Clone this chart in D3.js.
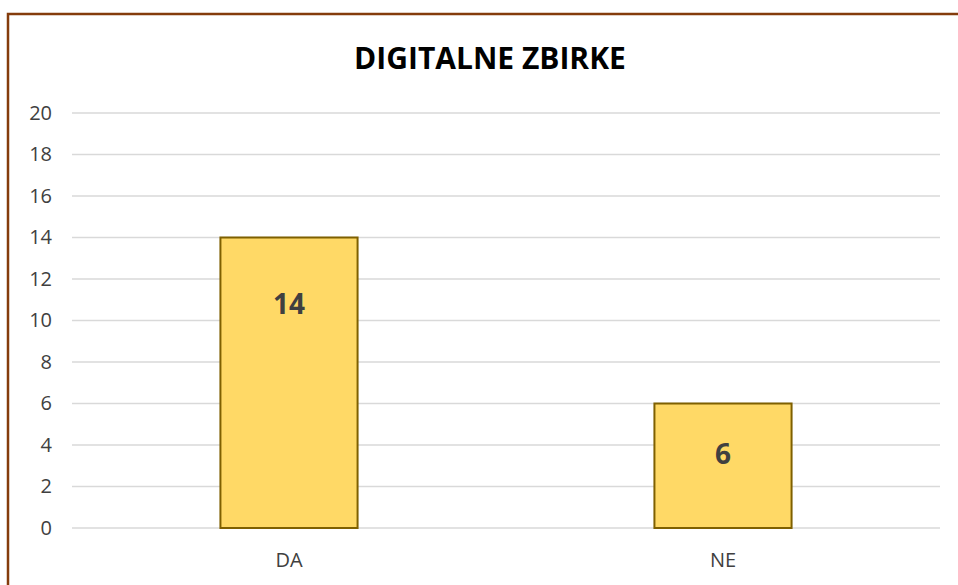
<!DOCTYPE html>
<html>
<head>
<meta charset="utf-8">
<script src="https://cdn.jsdelivr.net/npm/d3@7"></script>
<style>
  body { margin: 0; background: #fff; }
  svg { display: block; font-family: "Open Sans", "Liberation Sans", sans-serif; }
</style>
</head>
<body>
<svg id="chart" width="958" height="585"></svg>
<script>
// data
const categories = ["DA", "NE"];
const values = [14, 6];
const yTicks = [0, 2, 4, 6, 8, 10, 12, 14, 16, 18, 20];
const title = "DIGITALNE ZBIRKE";

const svg = d3.select("svg#chart");

// frame (only top and left edges show in the window)
svg.append("rect")
   .attr("x", 8)
   .attr("y", 14)
   .attr("width", 1000)
   .attr("height", 700)
   .attr("fill", "#fff")
   .attr("stroke", "#843c0c")
   .attr("stroke-width", 2.5);

// scales
const x = d3.scaleBand().domain(categories).range([72, 940])
            .paddingInner(0.684).paddingOuter(0.342);
const y = d3.scaleLinear().domain([0, 20]).range([528, 113]);

// gridlines
svg.append("g")
   .selectAll("line.grid")
   .data(yTicks)
   .join("line")
   .attr("class", "grid")
   .attr("x1", 72)
   .attr("x2", 940)
   .attr("y1", d => y(d))
   .attr("y2", d => y(d))
   .attr("stroke", "#d9d9d9")
   .attr("stroke-width", 1.5);

// y axis labels
const yAxis = d3.axisLeft(y).tickValues(yTicks).tickSize(0).tickPadding(0);
svg.append("g")
   .attr("transform", "translate(52,0)")
   .call(yAxis)
   .call(g => g.select(".domain").remove())
   .selectAll("text")
   .attr("fill", "#404040")
   .attr("font-size", 20)
   .attr("font-family", "'Open Sans', sans-serif");

// x axis labels
const xAxis = d3.axisBottom(x).tickSize(0).tickPadding(0);
svg.append("g")
   .attr("transform", "translate(0,567)")
   .call(xAxis)
   .call(g => g.select(".domain").remove())
   .selectAll("text")
   .attr("dy", null)
   .attr("fill", "#404040")
   .attr("font-size", 20)
   .attr("font-family", "'Open Sans', sans-serif");

// bars
svg.append("g")
   .selectAll("rect.bar")
   .data(values)
   .join("rect")
   .attr("class", "bar")
   .attr("x", (d, i) => x(categories[i]))
   .attr("y", d => y(d))
   .attr("width", x.bandwidth())
   .attr("height", d => y(0) - y(d))
   .attr("fill", "#ffd966")
   .attr("stroke", "#7f6000")
   .attr("stroke-width", 2);

// value labels (baseline distance below the bar top, as placed in the original)
const labelDrop = [76, 60];
svg.append("g")
   .selectAll("text.val")
   .data(values)
   .join("text")
   .attr("class", "val")
   .attr("x", (d, i) => x(categories[i]) + x.bandwidth() / 2)
   .attr("y", (d, i) => y(d) + labelDrop[i])
   .attr("text-anchor", "middle")
   .attr("font-size", 28)
   .attr("font-weight", "bold")
   .attr("fill", "#404040")
   .text(d => d);

// title
svg.append("text")
   .attr("x", 490)
   .attr("y", 69)
   .attr("text-anchor", "middle")
   .attr("font-size", 30)
   .attr("font-weight", "bold")
   .attr("fill", "#000")
   .text(title);
</script>
</body>
</html>
